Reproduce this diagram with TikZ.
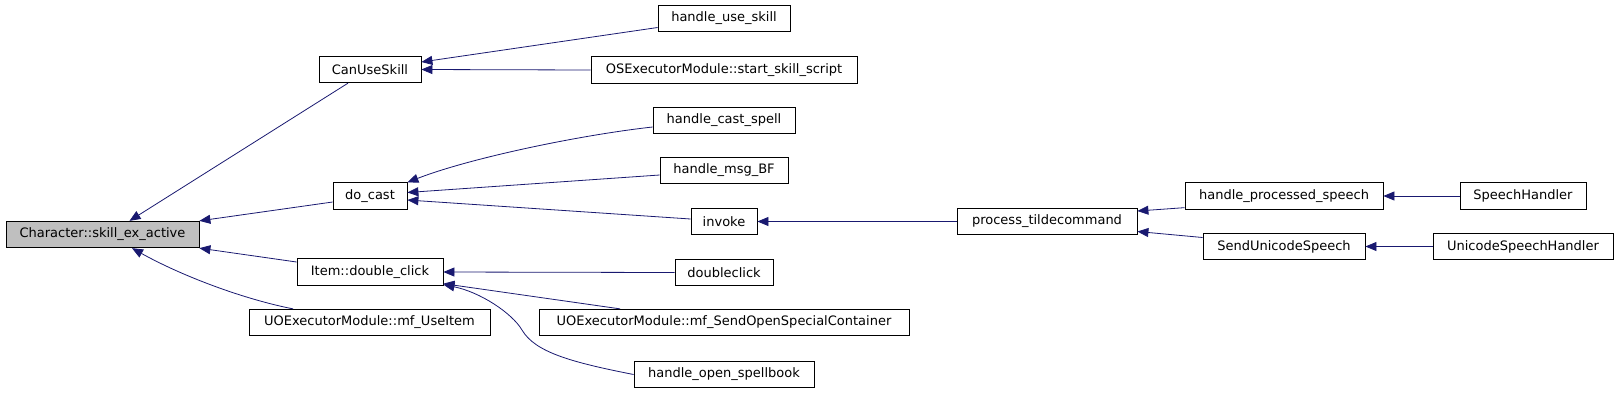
\documentclass[tikz,border=0pt]{standalone}
\usepackage{fontspec}
\setmainfont{DejaVu Sans}
\usetikzlibrary{arrows.meta}
\definecolor{callblue}{HTML}{191970}
\definecolor{focusgray}{HTML}{BFBFBF}
\tikzset{fn/.style={draw,line width=.8pt,minimum height=26.5pt,inner sep=0pt,font=\fontsize{13}{15}\selectfont},
  call/.style={-{Triangle[length=11pt,width=9pt]},callblue,line width=.8pt}}

\begin{document}
\begin{tikzpicture}[x=1pt,y=-1pt]
\useasboundingbox (0,0) rectangle (1619,392);
% the function being called
\node[fn,fill=focusgray,minimum width=193pt] (sxa) at (102.5,234.5) {Character::skill\_ex\_active};
% callers, column by column
\foreach \n/\x/\y/\w/\t in {cus/370/69.5/102/CanUseSkill, dcast/370/196/74/do\_cast,
  idc/370/272/146/Item::double\_click, mfui/369.5/322.5/241/UOExecutorModule::mf\_UseItem,
  hus/724/18.5/132/handle\_use\_skill, sss/724/70/266/OSExecutorModule::start\_skill\_script,
  hcs/724/120.5/142/handle\_cast\_spell, hbf/724/170.5/128/handle\_msg\_BF,
  inv/724/221.5/66/invoke, dclk/724/272.5/98/doubleclick,
  sosc/724/322.5/370/UOExecutorModule::mf\_SendOpenSpecialContainer,
  hosb/724/374.5/180/handle\_open\_spellbook, ptc/1047/221.5/180/process\_tildecommand,
  hps/1284/196/198/handle\_processed\_speech, sus/1284/246.5/162/SendUnicodeSpeech,
  sph/1523/196/126/SpeechHandler, usph/1523/246.5/180/UnicodeSpeechHandler}
 \node[fn,minimum width=\w pt] (\n) at (\x,\y) {\t};

\draw[call] ([xshift=-22pt]cus.south) -- ([xshift=27pt]sxa.north);
\draw[call] ([yshift=-6pt]dcast.west) -- (sxa.north east);
\draw[call] ([yshift=10pt]idc.west) -- (sxa.south east);
\draw[call] ([xshift=-76.5pt]mfui.north) .. controls (243,299) and (182,276) .. ([xshift=29.5pt]sxa.south);
\draw[call] ([yshift=-9pt]hus.west) -- ([yshift=7.5pt]cus.east);
\draw[call] (sss.west) -- (cus.east);
\draw[call] ([yshift=-6.5pt]hcs.west) .. controls (580,135) and (470,158) .. (dcast.north east);
\draw[call] ([yshift=-4.5pt]hbf.west) -- ([yshift=3.5pt]dcast.east);
\draw[call] ([yshift=2.5pt]inv.west) -- ([yshift=-4pt]dcast.east);
\draw[call] (ptc.west) -- (inv.east);
\draw[call] (dclk.west) -- (idc.east);
\draw[call] ([xshift=-104pt]sosc.north) -- ([yshift=2pt]idc.south east);
\draw[call] (hosb.west) .. controls (570,362) and (535,352) .. (522,330)
  .. controls (512,313) and (480,292) .. ([yshift=1pt]idc.south east);
\draw[call] ([yshift=2pt]hps.south west) -- ([yshift=10.5pt]ptc.east);
\draw[call] ([yshift=9pt]sus.west) -- ([yshift=-10pt]ptc.east);
\draw[call] (sph.west) -- (hps.east);
\draw[call] (usph.west) -- (sus.east);
\end{tikzpicture}
\end{document}
